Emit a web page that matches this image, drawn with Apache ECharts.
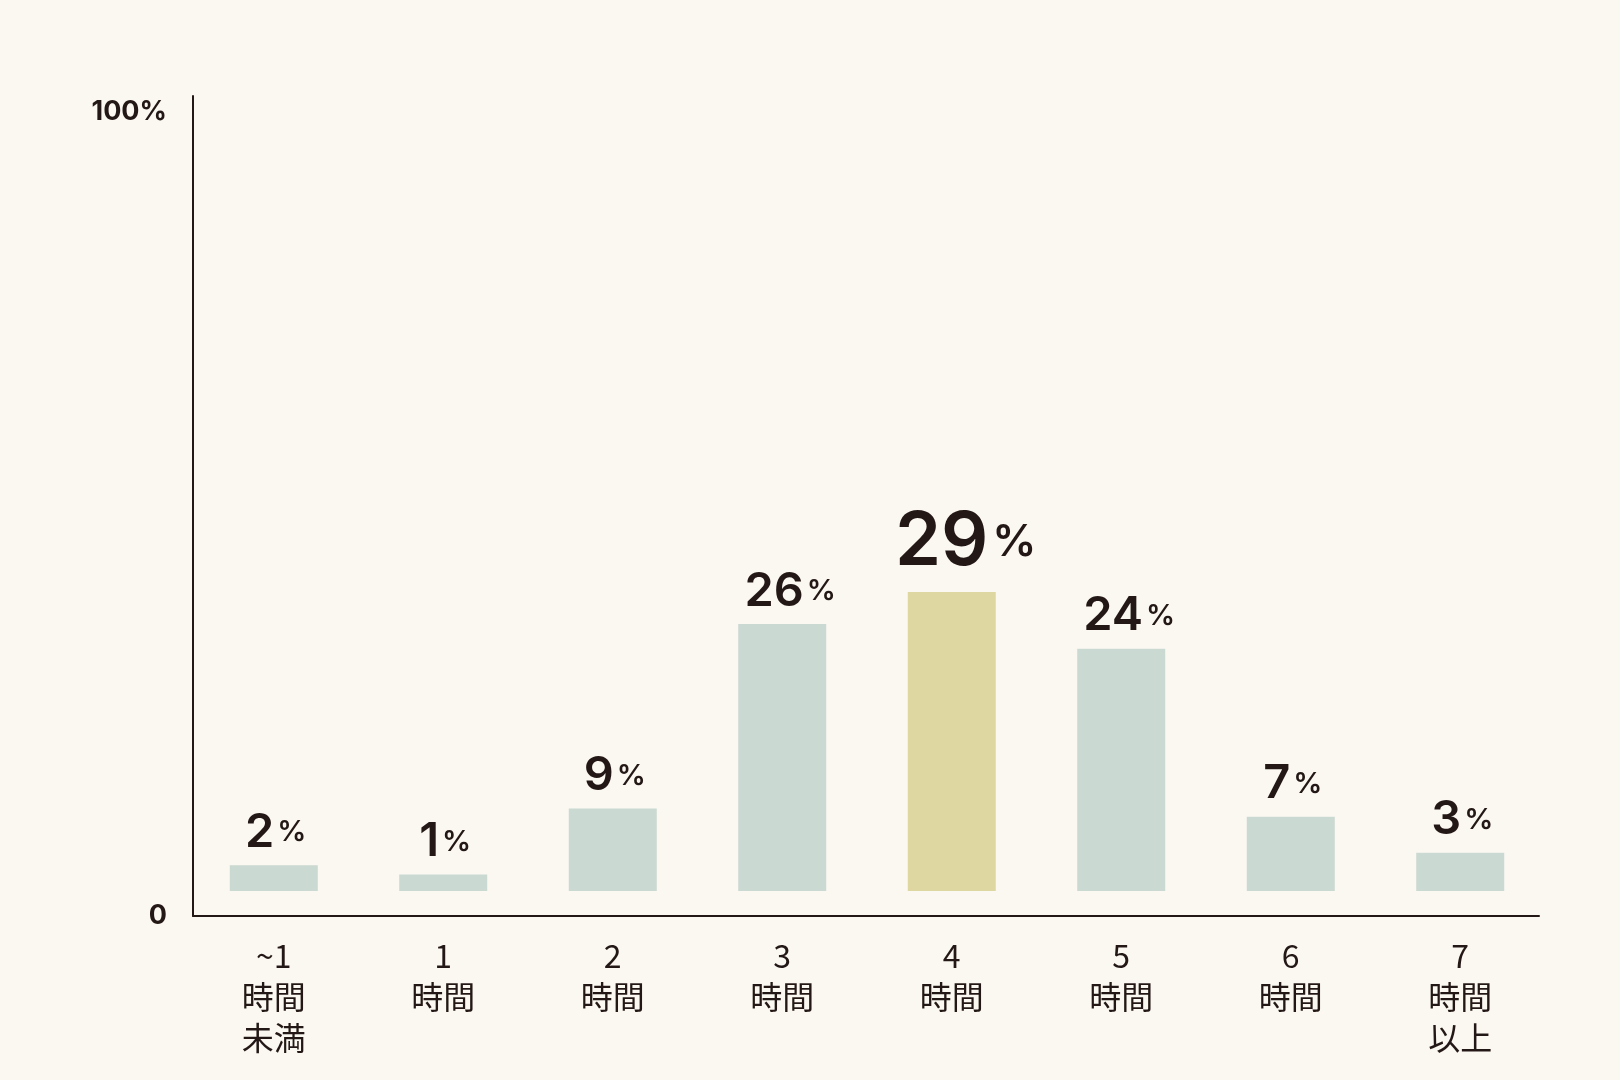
<!DOCTYPE html>
<html>
<head>
<meta charset="utf-8">
<style>
  html, body { margin: 0; padding: 0; background: #fbf8f2; }
  #chart { width: 1620px; height: 1080px; }
</style>
<script src="https://cdn.jsdelivr.net/npm/echarts@6/dist/echarts.min.js"></script>
</head>
<body>
<div id="chart"></div>
<script>
// ---- data ----
const categories = ['~1\n時間\n未満', '1\n時間', '2\n時間', '3\n時間', '4\n時間', '5\n時間', '6\n時間', '7\n時間\n以上'];
const percentLabels = [2, 1, 9, 26, 29, 24, 7, 3];          // printed values (%)
const barHeights = [2.5, 1.6, 8.0, 25.9, 29.0, 23.5, 7.2, 3.7]; // drawn bar heights (%)
const highlightIndex = 4;
const yTickValues = [0, 100];

// ---- style ----
const INK = '#231815';
const BAR = '#cad9d1';
const BAR_HI = '#dfd7a2';
const NUM_FONT = 'Inter, "Noto Sans", sans-serif';
const JP_FONT = '"Noto Sans CJK JP", "Noto Sans", sans-serif';

const chart = echarts.init(document.getElementById('chart'), null, { renderer: 'canvas' });

const barData = barHeights.map((v, i) => {
  const hi = i === highlightIndex;
  return {
    value: v,
    itemStyle: { color: hi ? BAR_HI : BAR },
    label: {
      show: true,
      position: 'top',
      distance: hi ? 12 : 9,
      offset: [percentLabels[i] >= 10 ? (hi ? 14 : 8) : 2, 0],
      formatter: () => (hi ? '{N|' + percentLabels[i] + '}{P|%}' : '{n|' + percentLabels[i] + '}{p|%}'),
      rich: {
        n: { fontFamily: NUM_FONT, fontSize: 47, fontWeight: 600, color: INK, lineHeight: 47 },
        p: { fontFamily: NUM_FONT, fontSize: 29, fontWeight: 600, color: INK, lineHeight: 47, padding: [0, 0, 0, 3] },
        N: { fontFamily: NUM_FONT, fontSize: 74, fontWeight: 600, color: INK, lineHeight: 74 },
        P: { fontFamily: NUM_FONT, fontSize: 44, fontWeight: 600, color: INK, lineHeight: 74, padding: [0, 0, 0, 4] }
      }
    }
  };
});

const option = {
  backgroundColor: '#fbf8f2',
  animation: false,
  grid: [
    { left: 193, right: 81, top: 96, bottom: 164 },
    { left: 189, right: 75, top: 66.2, bottom: 189 }
  ],
  xAxis: [
    {
      type: 'category', gridIndex: 0, data: categories,
      axisLine: { show: true, lineStyle: { color: INK, width: 2 } },
      axisTick: { show: false }, axisLabel: { show: false }, splitLine: { show: false }
    },
    {
      type: 'category', gridIndex: 1, data: categories,
      axisLine: { show: false }, axisTick: { show: false },
      axisLabel: {
        margin: 44, fontFamily: JP_FONT, fontSize: 32, fontWeight: 'normal',
        lineHeight: 41, color: INK, interval: 0
      }
    }
  ],
  yAxis: [
    {
      type: 'value', gridIndex: 0, min: 0, max: 102,
      axisLine: { show: true, lineStyle: { color: INK, width: 2 } },
      axisTick: { show: false }, splitLine: { show: false },
      axisLabel: {
        customValues: yTickValues,
        margin: 26,
        fontFamily: NUM_FONT, fontSize: 27, fontWeight: 700, color: INK,
        formatter: v => (v === 0 ? '0' : v + '%')
      }
    },
    {
      type: 'value', gridIndex: 1, min: 0, max: 80, show: false,
      splitLine: { show: false }
    }
  ],
  series: [
    {
      type: 'bar', xAxisIndex: 1, yAxisIndex: 1,
      barWidth: 88,
      data: barData
    }
  ]
};

chart.setOption(option);
</script>
</body>
</html>
